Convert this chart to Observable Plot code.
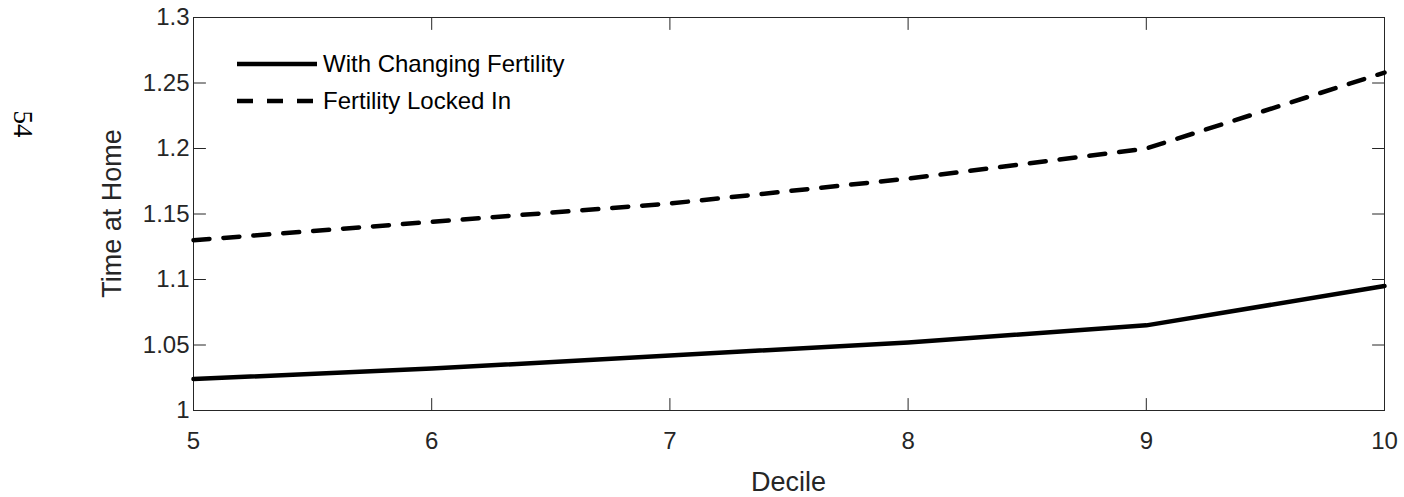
<!DOCTYPE html>
<html>
<head>
<meta charset="utf-8">
<script src="https://cdn.jsdelivr.net/npm/d3@7"></script>
<script src="https://cdn.jsdelivr.net/npm/@observablehq/plot@0.6"></script>
<style>
  html, body { margin: 0; padding: 0; background: #fff; }
  #chart { position: relative; width: 1404px; height: 497px; }
  #pagenum { position: absolute; left: 22px; top: 124px; transform: translate(-50%, -50%) rotate(90deg);
             font-family: "Liberation Serif", "DejaVu Serif", serif; font-size: 27px; color: #000; }
</style>
</head>
<body>
<div id="chart"><div id="pagenum">54</div></div>
<script>
// ---- data ----
const deciles = [5, 6, 7, 8, 9, 10];
const changingFertility = [1.024, 1.032, 1.042, 1.052, 1.065, 1.095];
const fertilityLockedIn = [1.130, 1.144, 1.158, 1.177, 1.200, 1.258];
const seriesNames = ["With Changing Fertility", "Fertility Locked In"];
const xTicks = [5, 6, 7, 8, 9, 10];
const yTicks = [1, 1.05, 1.1, 1.15, 1.2, 1.25, 1.3];
const yTickLabels = ["1", "1.05", "1.1", "1.15", "1.2", "1.25", "1.3"];
const xLabel = "Decile";
const yLabel = "Time at Home";

// ---- build table ----
const rows = [];
deciles.forEach((d, i) => {
  rows.push({decile: d, value: changingFertility[i], series: seriesNames[0]});
  rows.push({decile: d, value: fertilityLockedIn[i], series: seriesNames[1]});
});

const ink = "#262626";
const font = "Liberation Sans, Arial, sans-serif";
const W = 1404, H = 497;
const mL = 193, mR = 20, mT = 17, mB = 87;
const xMin = 5, xMax = 10, yMin = 1, yMax = 1.3;

// inward tick shape for Plot.vector
const tickShape = {draw(context, l) { context.moveTo(0, 0); context.lineTo(0, -l); }};
const tickOpts = {length: 12, anchor: "start", shape: tickShape, stroke: ink, strokeWidth: 1};

const plot = Plot.plot({
  width: W, height: H,
  marginLeft: mL, marginRight: mR, marginTop: mT, marginBottom: mB,
  style: {fontFamily: font, fontSize: "24px", color: ink, background: "#fff", overflow: "visible"},
  x: {domain: [xMin, xMax]},
  y: {domain: [yMin, yMax]},
  marks: [
    // tick labels
    Plot.axisX({ticks: xTicks, tickSize: 0, tickPadding: 21, label: null, tickFormat: d => String(d), fill: ink, fontSize: 24}),
    Plot.axisY({ticks: yTicks, tickSize: 0, tickPadding: 4, label: null, tickFormat: d => yTickLabels[yTicks.indexOf(d)], fill: ink, fontSize: 24}),
    // inward ticks on all four sides
    Plot.vector(xTicks, {x: d => d, y: () => yMin, rotate: 0, ...tickOpts}),
    Plot.vector(xTicks, {x: d => d, y: () => yMax, rotate: 180, ...tickOpts}),
    Plot.vector(yTicks, {x: () => xMin, y: d => d, rotate: 90, ...tickOpts}),
    Plot.vector(yTicks, {x: () => xMax, y: d => d, rotate: -90, ...tickOpts}),
    Plot.frame({stroke: ink, strokeWidth: 1}),
    Plot.line(rows.filter(r => r.series === seriesNames[0]), {x: "decile", y: "value", stroke: "#000", strokeWidth: 4.5}),
    Plot.line(rows.filter(r => r.series === seriesNames[1]), {x: "decile", y: "value", stroke: "#000", strokeWidth: 4.5, strokeDasharray: "16,14"})
  ]
});

document.getElementById("chart").appendChild(plot);
const svg = d3.select(plot);

// axis titles
svg.append("text").text(xLabel)
  .attr("x", mL + (W - mL - mR) / 2).attr("y", 482).attr("dy", "0.35em")
  .attr("text-anchor", "middle").attr("fill", ink)
  .style("font-family", font).style("font-size", "27px");
svg.append("text").text(yLabel)
  .attr("transform", `translate(112,${mT + (H - mT - mB) / 2}) rotate(-90)`)
  .attr("dy", "0.35em")
  .attr("text-anchor", "middle").attr("fill", ink)
  .style("font-family", font).style("font-size", "27px");

// legend
const legend = svg.append("g").attr("text-anchor", "start");
const legendY = [64, 101];
const legendDash = [null, "16,14"];
seriesNames.forEach((name, i) => {
  legend.append("line")
    .attr("x1", 237).attr("x2", 317).attr("y1", legendY[i]).attr("y2", legendY[i])
    .attr("stroke", "#000").attr("stroke-width", 4.5)
    .attr("stroke-dasharray", legendDash[i]);
  legend.append("text").text(name)
    .attr("x", 323).attr("y", legendY[i]).attr("dy", "0.35em")
    .attr("text-anchor", "start")
    .attr("fill", "#000")
    .style("font-family", font).style("font-size", "24px");
});
</script>
</body>
</html>
